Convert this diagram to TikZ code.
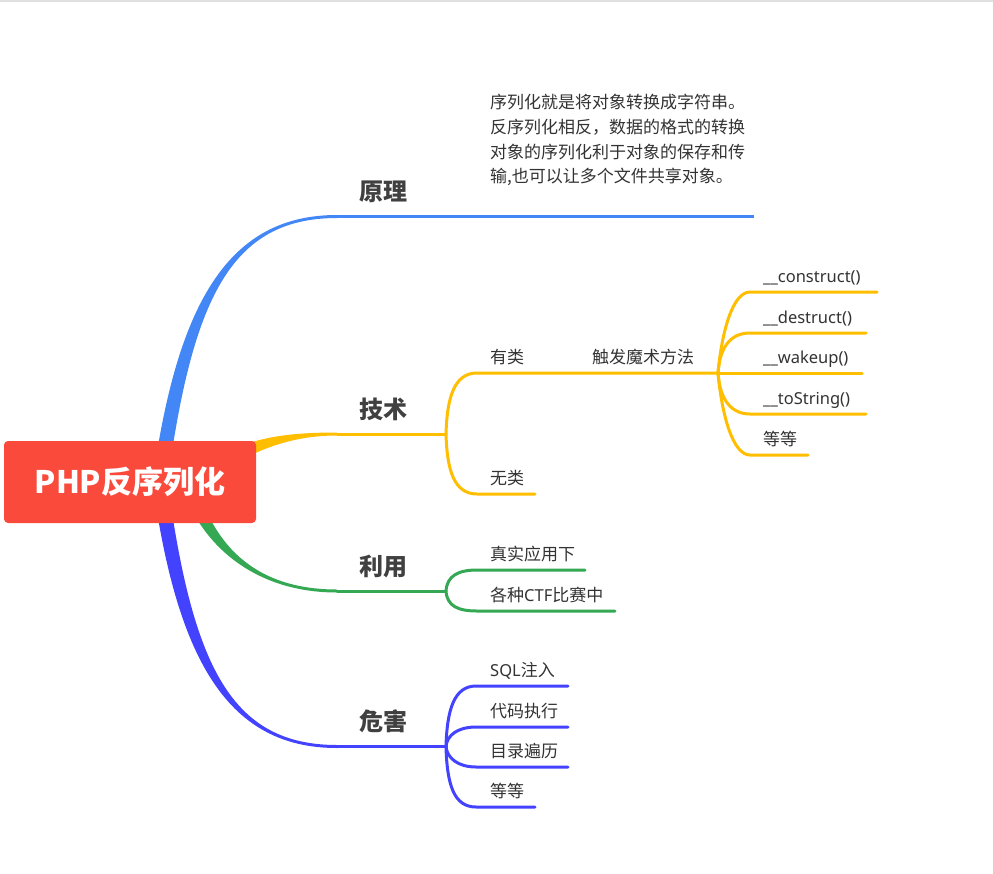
\documentclass[tikz,border=0pt]{standalone}
\usepackage{fontspec}
\setmainfont{Noto Sans CJK SC}
\newfontfamily\latfont{Noto Sans}
\definecolor{cBlue}{HTML}{4287F5}
\definecolor{cYel}{HTML}{FFBE00}
\definecolor{cGrn}{HTML}{34A853}
\definecolor{cPur}{HTML}{4343FF}
\definecolor{cRoot}{HTML}{F94A3C}
\definecolor{cTxt}{HTML}{333333}
\definecolor{cLab}{HTML}{404040}
\tikzset{
  sub/.style={anchor=base west, inner sep=0pt, font=\fontsize{17}{20}\selectfont, text=cTxt},
  lat/.style={anchor=base west, inner sep=0pt, font=\latfont\fontsize{16.5}{20}\selectfont, text=cTxt},
  lab/.style={anchor=base west, inner sep=0pt, font=\fontsize{24}{28}\selectfont\bfseries, text=cLab},
  br/.style={line width=3pt, line cap=round},
}
\begin{document}
\begin{tikzpicture}[x=1pt,y=-1pt]
\useasboundingbox (0,0) rectangle (993,873);
\fill[white] (0,0) rectangle (993,873);
\draw[black!12, line width=1.5pt] (0,0.75) -- (993,0.75);

% coordinates
\coordinate (bEnd) at (337,216.5);
\coordinate (yEnd) at (337,434);
\coordinate (gEnd) at (337,591);
\coordinate (pEnd) at (337,746.5);
\coordinate (yFork) at (446,434);
\coordinate (gFork) at (446,591);
\coordinate (pFork) at (446,746.5);
\coordinate (mFork) at (718,373);

% tapered main branches
\fill[cBlue] (152.5,482) .. controls (177.5,300) and (230,215) .. (337,215) -- (337,218) .. controls (230,218) and (192.5,300) .. (167.5,482) -- cycle;
\fill[cPur] (152.5,482) .. controls (177.5,664) and (230,748) .. (337,748) -- (337,745) .. controls (230,745) and (192.5,664) .. (167.5,482) -- cycle;
\fill[cGrn] (180.5,482) .. controls (197.5,540) and (250,592.5) .. (337,592.5) -- (337,589.5) .. controls (250,589.5) and (212.5,540) .. (195.5,482) -- cycle;
\fill[cYel] (215,474) .. controls (250,454) and (285,435.5) .. (337,435.5) -- (337,432.5) .. controls (285,432.5) and (250,438) .. (215,458) -- cycle;

% horizontal trunks
\draw[cBlue, line width=3pt] (bEnd) -- (754,216.5);
\draw[cYel, line width=3pt] (yEnd) -- (yFork);
\draw[cGrn, line width=3pt] (gEnd) -- (gFork);
\draw[cPur, line width=3pt] (pEnd) -- (pFork);

% root
\node[fill=cRoot, rounded corners=4pt, minimum width=252pt, minimum height=82pt, inner sep=0pt,
      text=white, font=\fontsize{31}{36}\selectfont\bfseries] (root) at (130,482) {PHP反序列化};

% labels of main branches
\node[lab] (l1) at (359,200.5) {原理};
\node[lab] (l2) at (359,418) {技术};
\node[lab] (l3) at (359,575) {利用};
\node[lab] (l4) at (359,730.5) {危害};

% description
\node[anchor=north west, inner sep=0pt, align=left, text=cTxt,
      font=\fontsize{17}{24.7}\selectfont] (desc) at (490,94)
  {序列化就是将对象转换成字符串。\\反序列化相反，数据的格式的转换\\对象的序列化利于对象的保存和传\\输,也可以让多个文件共享对象。};

% technique sub-branches
\draw[cYel, br] (yFork) .. controls (447,398) and (454,373) .. (477,373) -- (mFork);
\draw[cYel, br] (yFork) .. controls (447,470) and (454,494) .. (477,494) -- (535,494);
\node[sub] (t1) at (490,363) {有类};
\node[sub] (t2) at (490,484) {无类};
\node[sub] (t3) at (592,363) {触发魔术方法};

\draw[cYel, br] (mFork) .. controls (722,330) and (733,292) .. (750,292) -- (877,292);
\draw[cYel, br] (mFork) .. controls (720,345) and (732,333) .. (750,333) -- (866,333);
\draw[cYel, br] (mFork) -- (862,373);
\draw[cYel, br] (mFork) .. controls (720,401) and (732,414) .. (750,414) -- (866,414);
\draw[cYel, br] (mFork) .. controls (722,416) and (733,455) .. (750,455) -- (808,455);
\node[lat] (m1) at (763,282) {\_\_construct()};
\node[lat] (m2) at (763,323) {\_\_destruct()};
\node[lat] (m3) at (763,363) {\_\_wakeup()};
\node[lat] (m4) at (763,404) {\_\_toString()};
\node[sub] (m5) at (763,445) {等等};

% use sub-branches
\draw[cGrn, br] (gFork) .. controls (447,576) and (458,570) .. (477,570) -- (585,570);
\draw[cGrn, br] (gFork) .. controls (447,606) and (458,611) .. (477,611) -- (615,611);
\node[sub] (u1) at (490,560) {真实应用下};
\node[sub] (u2) at (490,601) {各种{\latfont\fontsize{16.5}{20}\selectfont CTF}比赛中};

% harm sub-branches
\draw[cPur, br] (pFork) .. controls (447,710) and (454,686) .. (476,686) -- (568,686);
\draw[cPur, br] (pFork) .. controls (447,735) and (458,727) .. (476,727) -- (568,727);
\draw[cPur, br] (pFork) .. controls (447,758) and (458,767) .. (476,767) -- (568,767);
\draw[cPur, br] (pFork) .. controls (447,785) and (454,807) .. (476,807) -- (535,807);
\node[sub] (h1) at (490,676) {{\latfont\fontsize{16.5}{20}\selectfont SQL}注入};
\node[sub] (h2) at (490,717) {代码执行};
\node[sub] (h3) at (490,757) {目录遍历};
\node[sub] (h4) at (490,797) {等等};
\end{tikzpicture}
\end{document}
